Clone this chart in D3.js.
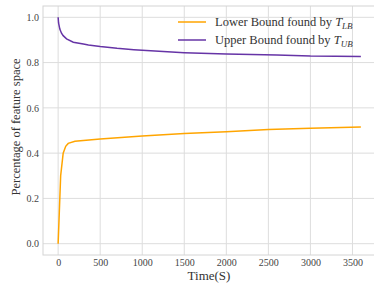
<!DOCTYPE html>
<html>
<head>
<meta charset="utf-8">
<script src="https://cdn.jsdelivr.net/npm/d3@7"></script>
<style>
  body { margin: 0; background: #fff; }
  svg text { font-family: "Liberation Serif", "DejaVu Serif", serif; }
</style>
</head>
<body>
<div id="canvas"></div>
<script>
// values
const lowerT = [0, 30, 60, 90, 120, 200, 500, 1000, 1500, 2000, 2500, 3000, 3600];
const lowerV = [0, 0.30, 0.40, 0.43, 0.443, 0.452, 0.462, 0.476, 0.487, 0.494, 0.504, 0.510, 0.516];
const upperT = [0, 5, 20, 40, 60, 100, 180, 300, 360, 500, 700, 900, 1300, 1500, 2000, 2600, 3000, 3600];
const upperV = [1.0, 0.975, 0.948, 0.93, 0.919, 0.905, 0.89, 0.882, 0.878, 0.871, 0.863, 0.857, 0.848, 0.844, 0.838, 0.834, 0.829, 0.827];
const xTicks = [0, 500, 1000, 1500, 2000, 2500, 3000, 3500];
const yTicks = [0.0, 0.2, 0.4, 0.6, 0.8, 1.0];

const width = 374;
const height = 287;
const margin = { top: 6, left: 43, bottom: 32, right: -2 };
const iwidth = width - margin.left - margin.right;
const iheight = height - margin.top - margin.bottom;

const svg = d3.select("#canvas").append("svg")
    .attr("width", width)
    .attr("height", height);

const g = svg.append("g").attr("transform", `translate(${margin.left},${margin.top})`);

const x = d3.scaleLinear()
    .domain([-180, 3780])
    .range([0, iwidth]);

const y = d3.scaleLinear()
    .domain([-0.05, 1.05])
    .range([iheight, 0]);

// grid
g.append("g").selectAll("line").data(xTicks).enter().append("line")
    .attr("x1", d => x(d)).attr("x2", d => x(d))
    .attr("y1", 0).attr("y2", iheight)
    .style("stroke", "#dddddd").style("stroke-width", 1);

g.append("g").selectAll("line").data(yTicks).enter().append("line")
    .attr("x1", 0).attr("x2", iwidth)
    .attr("y1", d => y(d)).attr("y2", d => y(d))
    .style("stroke", "#dddddd").style("stroke-width", 1);

g.append("rect")
    .attr("width", iwidth).attr("height", iheight)
    .style("fill", "none").style("stroke", "#d4d4d4").style("stroke-width", 1);

// axes
const xAxis = g.append("g")
    .attr("transform", `translate(0, ${iheight})`)
    .call(d3.axisBottom(x).tickValues(xTicks).tickSize(0).tickPadding(3.5).tickFormat(d3.format("d")));
const yAxis = g.append("g")
    .call(d3.axisLeft(y).tickValues(yTicks).tickSize(0).tickPadding(4).tickFormat(d3.format(".1f")));
[xAxis, yAxis].forEach(a => {
    a.select(".domain").remove();
    a.selectAll("text").style("font-size", "10px").style("fill", "#444")
        .style("font-family", "'Liberation Serif', serif");
});

// lines
const line = d3.line().x(d => x(d[0])).y(d => y(d[1]));
const lowerData = lowerT.map((t, i) => [t, lowerV[i]]);
const upperData = upperT.map((t, i) => [t, upperV[i]]);

g.append("path").datum(lowerData)
    .attr("d", line)
    .style("fill", "none").style("stroke", "#ffa500").style("stroke-width", 1.5);

g.append("path").datum(upperData)
    .attr("d", line)
    .style("fill", "none").style("stroke", "#6634a6").style("stroke-width", 1.5);

// labels
svg.append("text")
    .attr("x", 209)
    .attr("y", 280)
    .attr("text-anchor", "middle")
    .style("font-size", "13px").style("fill", "#333")
    .text("Time(S)");

svg.append("text")
    .attr("transform", "translate(20, 127) rotate(-90)")
    .attr("text-anchor", "middle")
    .style("font-size", "12.5px").style("fill", "#333")
    .text("Percentage of feature space");

// legend
const legend = [
    { label: "Lower Bound found by ", sub: "LB", color: "#ffa500" },
    { label: "Upper Bound found by ", sub: "UB", color: "#6634a6" }
];
const lg = svg.append("g").selectAll("g").data(legend).enter().append("g")
    .attr("transform", (d, i) => `translate(178, ${22 + i * 18})`);
lg.append("line")
    .attr("x1", 0).attr("x2", 28)
    .style("stroke", d => d.color).style("stroke-width", 1.5);
const lt = lg.append("text")
    .attr("x", 37).attr("y", 4)
    .style("font-size", "12.5px").style("fill", "#333");
lt.append("tspan").text(d => d.label);
lt.append("tspan").style("font-style", "italic").text("T");
lt.append("tspan").attr("dy", 2.5).style("font-style", "italic").style("font-size", "9px").text(d => d.sub);
</script>
</body>
</html>
